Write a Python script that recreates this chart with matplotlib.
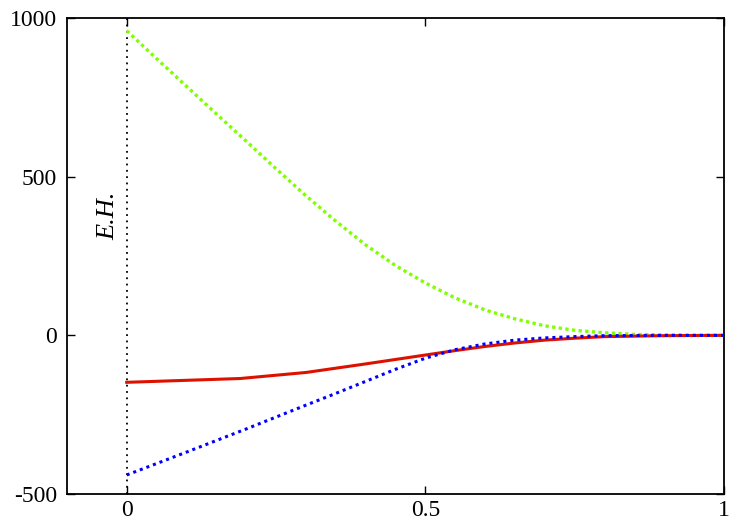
import matplotlib
matplotlib.use("Agg")
import matplotlib.pyplot as plt

plt.rcParams['font.family'] = ['Liberation Serif', 'DejaVu Serif']
plt.rcParams['axes.unicode_minus'] = False

x_green = [0.0, 0.05, 0.1, 0.15, 0.2, 0.25, 0.3, 0.35, 0.4, 0.45, 0.5,
           0.55, 0.6, 0.65, 0.7, 0.75, 0.8, 0.85, 0.9, 0.95, 1.0]
y_green = [960, 872, 785, 698, 612, 525, 440, 360, 285, 220, 165,
           118, 80, 52, 30, 16, 8, 3, 1, 0, 0]

x_red = [0.0, 0.19, 0.3, 0.4, 0.45, 0.5, 0.55, 0.6, 0.65, 0.7, 0.75, 0.8, 0.9, 1.0]
y_red = [-148, -136, -117, -90, -76, -62, -48, -35, -24, -15, -9, -4, -1, 0]

x_blue = [0.0, 0.1, 0.2, 0.3, 0.35, 0.4, 0.45, 0.5, 0.55, 0.6, 0.65, 0.7, 0.75, 0.8, 0.9, 1.0]
y_blue = [-440, -368, -295, -220, -183, -145, -107, -72, -45, -27, -15, -8, -4, -1, 0, 0]

eh_x = 0.0
eh_label = "E.H."

xticks = [0, 0.5, 1]
xticklabels = ["0", "0.5", "1"]
yticks = [-500, 0, 500, 1000]
yticklabels = ["-500", "0", "500", "1000"]

fig = plt.figure(figsize=(7.5, 5.25), dpi=100)
ax = fig.add_axes([0.0893, 0.059, 0.8760, 0.9067])

ax.axvline(eh_x, color='black', linestyle=(0, (1, 2.5)), linewidth=1.3, zorder=1)
ax.plot(x_green, y_green, color='#80ff00', linestyle=(0, (1, 1)), linewidth=2.4, zorder=2)
ax.plot(x_red, y_red, color='#dd1100', linestyle='-', linewidth=2.2, zorder=3)
ax.plot(x_blue, y_blue, color='#0000ff', linestyle=(0, (1, 1.3)), linewidth=2.2, zorder=4)

ax.text(-0.012, 377, eh_label, rotation=90, ha='right', va='center',
        fontsize=19, style='italic')

ax.set_xlim(-0.1, 1.0)
ax.set_ylim(-500, 1000)
ax.set_xticks(xticks)
ax.set_xticklabels(xticklabels)
ax.set_yticks(yticks)
ax.set_yticklabels(yticklabels)
ax.tick_params(direction='in', length=6, width=1, top=True, right=True,
               labelsize=17, pad=7)
ax.tick_params(axis='x', pad=4)
for s in ax.spines.values():
    s.set_linewidth(1.3)

fig.savefig("out.png", dpi=100)
